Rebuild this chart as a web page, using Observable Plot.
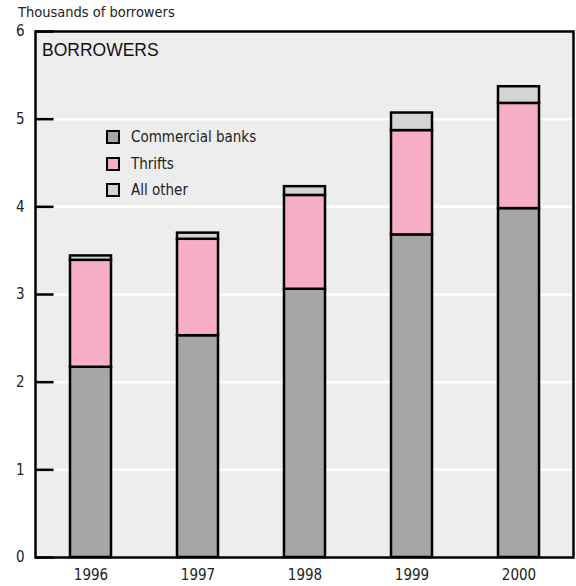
<!DOCTYPE html>
<html>
<head>
<meta charset="utf-8">
<script src="https://cdn.jsdelivr.net/npm/d3@7"></script>
<script src="https://cdn.jsdelivr.net/npm/@observablehq/plot@0.6"></script>
<style>
  body { margin: 0; background: #fff; }
  #wrap { position: relative; width: 576px; height: 586px; }
  .cond { font-family: "DejaVu Sans Condensed", "Liberation Sans Narrow", sans-serif; font-stretch: condensed; }
  #title { position: absolute; left: 18px; top: 4px; font-size: 14.5px; color: #222; }
  #panel { position: absolute; left: 42px; top: 40px; font-family: "Liberation Sans", Arial, sans-serif; font-size: 17.5px; color: #111; }
  #legend { position: absolute; left: 106px; top: 124px; font-size: 15px; color: #222; }
  #legend .row { display: flex; align-items: center; height: 26.5px; }
  #legend .sw { width: 10px; height: 10px; border: 2.5px solid #000; margin-right: 11px; }
</style>
</head>
<body>
<div id="wrap">
  <div id="chart"></div>
  <div id="title" class="cond">Thousands of borrowers</div>
  <div id="panel">BORROWERS</div>
  <div id="legend" class="cond"></div>
</div>
<script>
const years = ["1996", "1997", "1998", "1999", "2000"];
const seriesNames = ["Commercial banks", "Thrifts", "All other"];
const commercialBanks = [2.17, 2.53, 3.06, 3.68, 3.98];
const thrifts = [1.22, 1.10, 1.07, 1.19, 1.20];
const allOther = [0.05, 0.07, 0.10, 0.20, 0.19];
const yTicks = [0, 1, 2, 3, 4, 5, 6];
const colors = ["#a6a6a6", "#f7aec6", "#d4d4d4"];

const seriesValues = [commercialBanks, thrifts, allOther];
const data = [];
seriesNames.forEach((s, i) => years.forEach((y, j) => data.push({year: y, series: s, value: seriesValues[i][j]})));

const W = 576, H = 586, mL = 35, mR = 3, mT = 31, mB = 29;
const condFont = '"DejaVu Sans Condensed", "Liberation Sans Narrow", sans-serif';
const tickLen = 18;
const inwardTick = {draw(context) { context.moveTo(0, 0); context.lineTo(tickLen, 0); }};

const plot = Plot.plot({
  width: W, height: H,
  marginLeft: mL, marginRight: mR, marginTop: mT, marginBottom: mB,
  style: {fontFamily: condFont, fontSize: "15px", color: "#222", background: "#fff"},
  x: {domain: years, paddingInner: 0.62, paddingOuter: 0.31, label: null},
  y: {domain: [0, 6], label: null},
  color: {domain: seriesNames, range: colors},
  marks: [
    Plot.frame({fill: "#ededed"}),
    Plot.gridY(yTicks, {stroke: "#fff", strokeOpacity: 1, strokeWidth: 2.5, insetLeft: tickLen}),
    Plot.dot(yTicks, {y: d => d, frameAnchor: "left", symbol: inwardTick, fill: "none", stroke: "#000", strokeWidth: 2.5}),
    Plot.barY(data, {x: "year", y: "value", fill: "series", order: seriesNames, stroke: "#000", strokeWidth: 2.5}),
    Plot.frame({stroke: "#000", strokeWidth: 2.5}),
    Plot.axisY(yTicks, {tickSize: 0, tickPadding: 11, tickFormat: d3.format("d"), label: null, fontSize: 15}),
    Plot.axisX({tickSize: 0, tickPadding: 12, label: null, fontSize: 15})
  ]
});
document.getElementById("chart").appendChild(plot);

const legend = document.getElementById("legend");
seriesNames.forEach((s, i) => {
  const row = document.createElement("div");
  row.className = "row";
  const sw = document.createElement("span");
  sw.className = "sw";
  sw.style.background = colors[i];
  const t = document.createElement("span");
  t.textContent = s;
  row.appendChild(sw); row.appendChild(t);
  legend.appendChild(row);
});
</script>
</body>
</html>
